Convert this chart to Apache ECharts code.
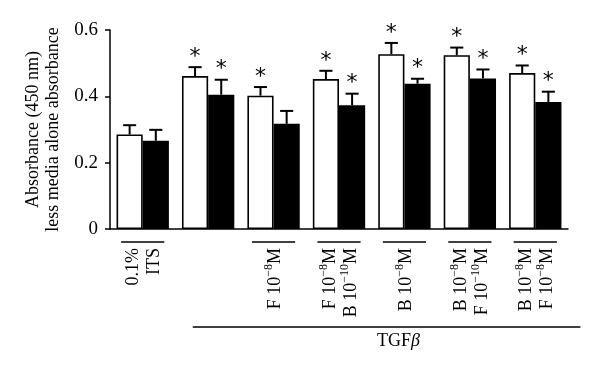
<!DOCTYPE html>
<html><head><meta charset="utf-8">
<script src="https://cdn.jsdelivr.net/npm/echarts@6/dist/echarts.min.js"></script>
<style>html,body{margin:0;padding:0;background:#fff}#c{width:600px;height:372px}</style>
</head><body><div id="c"></div>
<script>
var categories = ['0.1%\nITS', '', 'F 10⁻⁸M', 'F 10⁻⁸M\nB 10⁻¹⁰M', 'B 10⁻⁸M', 'B 10⁻⁸M\nF 10⁻¹⁰M', 'B 10⁻⁸M\nF 10⁻⁸M'];
var whiteMeans = [0.285, 0.461, 0.402, 0.452, 0.527, 0.524, 0.470];
var whiteSEM   = [0.028, 0.027, 0.026, 0.025, 0.034, 0.023, 0.023];
var blackMeans = [0.266, 0.405, 0.317, 0.373, 0.438, 0.454, 0.383];
var blackSEM   = [0.033, 0.045, 0.039, 0.035, 0.015, 0.027, 0.031];
var whiteStar  = [0, 1, 1, 1, 1, 1, 1];
var blackStar  = [0, 1, 0, 1, 1, 1, 1];
var bracketed  = [1, 0, 1, 1, 1, 1, 1];
var yTicks = [0, 0.2, 0.4, 0.6];
var groupLabel = 'TGF';

var FONT = 'Liberation Serif';
var chart = echarts.init(document.getElementById('c'));

var supMap = { '⁻': '−', '⁰': '0', '¹': '1', '⁸': '8' };
function toRich(s) {
  return s.split('\n').map(function (line) {
    return line.replace(/([^⁻⁰¹⁸]+)|([⁻⁰¹⁸]+)/g, function (m, a, b) {
      if (a) return '{n|' + a + '}';
      return '{s|' + b.split('').map(function (ch) { return supMap[ch]; }).join('') + '}';
    });
  }).join('\n');
}

function errData(means, sem, stars) {
  return means.map(function (m, i) { return [i, m, m + sem[i], stars[i]]; });
}
function errSeries(means, sem, stars, side) {
  return {
    type: 'custom',
    z: 5,
    data: errData(means, sem, stars),
    renderItem: function (params, api) {
      var band = api.size([1, 0])[0];
      var c = api.coord([api.value(0), api.value(1)]);
      var t = api.coord([api.value(0), api.value(2)]);
      var x = c[0] + side * band * 0.2;
      var cap = band * 0.1;
      var children = [
        { type: 'line', shape: { x1: x, y1: c[1], x2: x, y2: t[1] }, style: { stroke: '#000', lineWidth: 2 } },
        { type: 'line', shape: { x1: x - cap, y1: t[1], x2: x + cap, y2: t[1] }, style: { stroke: '#000', lineWidth: 2 } }
      ];
      if (api.value(3)) {
        children.push({ type: 'text', style: { text: '*', x: x, y: t[1] - 10, align: 'center', verticalAlign: 'middle',
          font: '22px "DejaVu Sans"', fill: '#000' } });
      }
      return { type: 'group', children: children };
    }
  };
}

chart.setOption({
  animation: false,
  grid: { left: 110, right: 32, top: 30, bottom: 143 },
  xAxis: {
    type: 'category', data: categories,
    axisLine: { lineStyle: { color: '#000', width: 1.5 } },
    axisTick: { alignWithLabel: true, length: 5, lineStyle: { color: '#000', width: 1.5 } },
    axisLabel: { rotate: 90, margin: 19, color: '#000', interval: 0,
      formatter: function (v) { return toRich(v); },
      rich: {
        n: { fontFamily: FONT, fontSize: 18, lineHeight: 21, verticalAlign: 'bottom', color: '#000' },
        s: { fontFamily: FONT, fontSize: 12, lineHeight: 21, verticalAlign: 'top', color: '#000' }
      } }
  },
  yAxis: {
    type: 'value', min: 0, max: 0.6, interval: 0.2,
    name: 'Absorbance (450 nm)\nless media alone absorbance',
    nameLocation: 'middle', nameRotate: 90, nameGap: 47,
    nameTextStyle: { color: '#000', fontFamily: FONT, fontSize: 18, lineHeight: 20 },
    axisLine: { show: true, lineStyle: { color: '#000', width: 1.5 } },
    axisTick: { show: true, length: 5, lineStyle: { color: '#000', width: 1.5 } },
    splitLine: { show: false },
    axisLabel: { color: '#000', fontFamily: FONT, fontSize: 19, margin: 12,
      formatter: function (v) { return yTicks.indexOf(+v.toFixed(1)) >= 0 ? String(+v.toFixed(1)) : ''; } }
  },
  series: [
    { type: 'bar', data: whiteMeans, barWidth: '40%', barGap: '0%', itemStyle: { color: '#fff', borderColor: '#000', borderWidth: 1.6 } },
    { type: 'bar', data: blackMeans, barWidth: '40%', barGap: '0%', itemStyle: { color: '#000', borderColor: '#000', borderWidth: 1.6 } },
    errSeries(whiteMeans, whiteSEM, whiteStar, -1),
    errSeries(blackMeans, blackSEM, blackStar, 1)
  ]
});

var x0 = chart.convertToPixel({ xAxisIndex: 0 }, 0);
var x1 = chart.convertToPixel({ xAxisIndex: 0 }, 1);
var band = x1 - x0;
var yAxisPx = chart.convertToPixel({ yAxisIndex: 0 }, 0);
var g = [];
bracketed.forEach(function (b, i) {
  if (!b) return;
  var cx = chart.convertToPixel({ xAxisIndex: 0 }, i);
  g.push({ type: 'line', shape: { x1: cx - band * 0.33, y1: yAxisPx + 13, x2: cx + band * 0.33, y2: yAxisPx + 13 }, style: { stroke: '#000', lineWidth: 1.5 } });
});
var xs = chart.convertToPixel({ xAxisIndex: 0 }, 1) - band * 0.235;
var xe = chart.convertToPixel({ xAxisIndex: 0 }, categories.length - 1) + band * 0.69;
g.push({ type: 'line', shape: { x1: xs, y1: yAxisPx + 98, x2: xe, y2: yAxisPx + 98 }, style: { stroke: '#000', lineWidth: 1.5 } });
g.push({ type: 'text', x: chart.convertToPixel({ xAxisIndex: 0 }, 4) - 6, y: yAxisPx + 112,
  style: { text: groupLabel + '{i|β}', align: 'center', verticalAlign: 'middle', font: '18px "Liberation Serif"', fill: '#000',
    rich: { i: { fontStyle: 'italic', fontFamily: FONT, fontSize: 18 } } } });
chart.setOption({ graphic: g });
</script>
</body></html>
